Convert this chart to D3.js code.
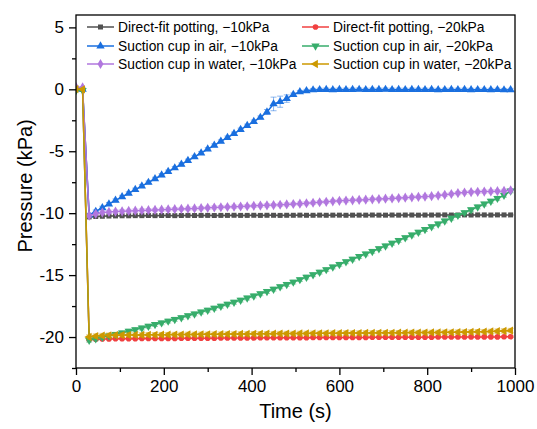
<!DOCTYPE html>
<html>
<head>
<meta charset="utf-8">
<script src="https://d3js.org/d3.v7.min.js"></script>
<style>
  body { margin: 0; background: #fff; }
  text { font-family: Arial, "Liberation Sans", sans-serif; fill: #000; }
</style>
</head>
<body>
<svg id="chart" width="537" height="429"></svg>
<script>
// time stamps (s)
const time = [0,15,30,45,60,75,90,105,120,135,150,165,180,195,210,225,240,255,270,285,
  300,315,330,345,360,375,390,405,420,435,450,465,480,495,510,525,540,555,570,585,
  600,615,630,645,660,675,690,705,720,735,750,765,780,795,810,825,840,855,870,885,
  900,915,930,945,960,975,990];

// pressure (kPa)
const potting10 = [0.02,0.00,
  -10.30,-10.27,-10.25,-10.23,-10.22,-10.21,-10.21,-10.20,-10.20,-10.19,
  -10.20,-10.19,-10.19,-10.20,-10.19,-10.18,-10.19,-10.18,-10.18,-10.19,
  -10.18,-10.18,-10.17,-10.18,-10.18,-10.17,-10.18,-10.17,-10.17,-10.18,
  -10.17,-10.17,-10.16,-10.17,-10.17,-10.16,-10.17,-10.16,-10.16,-10.17,
  -10.16,-10.16,-10.16,-10.15,-10.16,-10.16,-10.15,-10.16,-10.15,-10.15,
  -10.16,-10.15,-10.15,-10.15,-10.14,-10.15,-10.15,-10.14,-10.15,-10.14,
  -10.14,-10.15,-10.14,-10.14,-10.14];
const potting20 = [0.00,-0.02,
  -20.22,-20.18,-20.16,-20.15,-20.14,-20.14,-20.13,-20.13,-20.12,-20.12,
  -20.12,-20.11,-20.11,-20.11,-20.10,-20.10,-20.10,-20.09,-20.09,-20.09,
  -20.08,-20.08,-20.08,-20.07,-20.07,-20.07,-20.06,-20.06,-20.06,-20.06,
  -20.05,-20.05,-20.05,-20.05,-20.04,-20.04,-20.04,-20.04,-20.03,-20.03,
  -20.03,-20.03,-20.03,-20.02,-20.02,-20.02,-20.02,-20.02,-20.01,-20.01,
  -20.01,-20.01,-20.01,-20.00,-20.00,-20.00,-20.00,-20.00,-19.99,-19.99,
  -19.99,-19.99,-19.99,-19.98,-19.98];
const air10 = [0.05,0.00,
  -10.15,-9.86,-9.56,-9.26,-8.97,-8.68,-8.39,-8.10,-7.81,-7.52,
  -7.22,-6.93,-6.64,-6.35,-6.06,-5.76,-5.45,-5.14,-4.83,-4.52,
  -4.20,-3.89,-3.57,-3.25,-2.93,-2.60,-2.27,-1.83,-1.18,-1.00,
  -0.75,-0.42,-0.21,-0.12,-0.05,-0.03,-0.02,-0.04,-0.02,-0.03,
  -0.02,-0.01,-0.03,-0.02,-0.02,-0.01,-0.03,-0.02,-0.03,-0.02,
  -0.02,-0.03,-0.02,-0.04,-0.03,-0.02,-0.03,-0.02,-0.04,-0.03,
  -0.03,-0.04,-0.03,-0.05,-0.04];
const air20 = [-0.10,-0.08,
  -20.25,-20.14,-20.02,-19.90,-19.78,-19.66,-19.53,-19.40,-19.27,-19.13,
  -18.99,-18.85,-18.71,-18.57,-18.43,-18.28,-18.13,-17.98,-17.83,-17.67,
  -17.51,-17.35,-17.19,-17.02,-16.85,-16.68,-16.50,-16.32,-16.13,-15.94,
  -15.75,-15.56,-15.36,-15.16,-14.96,-14.76,-14.55,-14.34,-14.13,-13.92,
  -13.71,-13.50,-13.29,-13.08,-12.86,-12.64,-12.42,-12.20,-11.98,-11.76,
  -11.54,-11.32,-11.09,-10.86,-10.63,-10.40,-10.17,-9.95,-9.72,-9.49,
  -9.26,-9.03,-8.80,-8.55,-8.20];
const water10 = [0.18,0.15,
  -10.20,-10.05,-9.95,-9.90,-9.87,-9.85,-9.82,-9.80,-9.78,-9.76,
  -9.74,-9.72,-9.70,-9.68,-9.66,-9.64,-9.62,-9.60,-9.57,-9.54,
  -9.52,-9.50,-9.48,-9.46,-9.44,-9.41,-9.39,-9.37,-9.35,-9.32,
  -9.29,-9.26,-9.23,-9.20,-9.16,-9.12,-9.08,-9.04,-9.00,-8.98,
  -8.96,-8.93,-8.91,-8.88,-8.86,-8.83,-8.81,-8.78,-8.75,-8.72,
  -8.69,-8.66,-8.63,-8.58,-8.52,-8.45,-8.38,-8.33,-8.30,-8.28,
  -8.26,-8.24,-8.22,-8.20,-8.15];
const water20 = [0.02,0.00,
  -20.00,-19.92,-19.88,-19.86,-19.85,-19.84,-19.84,-19.83,-19.83,-19.82,
  -19.82,-19.81,-19.81,-19.80,-19.80,-19.79,-19.79,-19.78,-19.78,-19.77,
  -19.77,-19.76,-19.76,-19.75,-19.75,-19.74,-19.74,-19.73,-19.73,-19.72,
  -19.72,-19.72,-19.71,-19.71,-19.70,-19.70,-19.70,-19.69,-19.69,-19.68,
  -19.68,-19.68,-19.67,-19.67,-19.66,-19.66,-19.66,-19.65,-19.65,-19.64,
  -19.64,-19.64,-19.63,-19.63,-19.62,-19.62,-19.61,-19.60,-19.59,-19.58,
  -19.57,-19.55,-19.53,-19.51,-19.48];

// standard deviations (kPa), one per series, plus the larger ones on the air curve
const errSize = [0.04, 0.06, 0.12, 0.16, 0.13, 0.18];
const air10Err = {435: 0.2, 450: 0.55, 465: 0.45, 480: 0.3};

const labels = ["Direct-fit potting, \u221210kPa", "Direct-fit potting, \u221220kPa",
  "Suction cup in air, \u221210kPa", "Suction cup in air, \u221220kPa",
  "Suction cup in water, \u221210kPa", "Suction cup in water, \u221220kPa"];
const colors = ["#515151", "#F14040", "#1A6FDF", "#37AD6B", "#B177DE", "#CC9900"];
const xTicks = [0, 200, 400, 600, 800, 1000];
const yTicks = [-20, -15, -10, -5, 0, 5];

const symbols = [
  {type: d3.symbolSquare, size: 25, rot: 0},
  {type: d3.symbolCircle, size: 25, rot: 0},
  {type: d3.symbolTriangle, size: 30, rot: 0},
  {type: d3.symbolTriangle, size: 30, rot: 180},
  {type: d3.symbolDiamond, size: 30, rot: 0},
  {type: d3.symbolTriangle, size: 30, rot: -90}
];

const allSeries = [potting10, potting20, air10, air20, water10, water20];

const svg = d3.select("#chart");
const m = {left: 76, top: 15, right: 22, bottom: 61};
const W = 537 - m.left - m.right, H = 429 - m.top - m.bottom;

const x = d3.scaleLinear().domain([0, 1000]).range([0, W]);
const y = d3.scaleLinear().domain([-22.5, 6]).range([H, 0]);

const g = svg.append("g").attr("transform", `translate(${m.left},${m.top})`);

// clip so nothing spills past the frame
svg.append("defs").append("clipPath").attr("id", "clip")
  .append("rect").attr("x", 0).attr("y", 0).attr("width", W).attr("height", H);

const plot = g.append("g").attr("clip-path", "url(#clip)");

allSeries.forEach((vals, s) => {
  const pts = time.map((t, i) => ({t: t, v: vals[i]}));
  const sg = plot.append("g");
  const col = colors[s];

  // error bars
  const eb = sg.append("g").attr("stroke", col).attr("stroke-opacity", 0.55).attr("stroke-width", 0.9);
  pts.forEach(p => {
    if (p.t < 30) return;
    let e = errSize[s];
    if (s === 2 && air10Err[p.t] !== undefined) e = air10Err[p.t];
    const x0 = x(p.t), y1 = y(p.v + e), y2 = y(p.v - e);
    eb.append("line").attr("x1", x0).attr("x2", x0).attr("y1", y1).attr("y2", y2);
    eb.append("line").attr("x1", x0 - 3).attr("x2", x0 + 3).attr("y1", y1).attr("y2", y1);
    eb.append("line").attr("x1", x0 - 3).attr("x2", x0 + 3).attr("y1", y2).attr("y2", y2);
  });

  sg.append("path")
    .datum(pts)
    .attr("fill", "none")
    .attr("stroke", col)
    .attr("stroke-width", 1.5)
    .attr("d", d3.line().x(d => x(d.t)).y(d => y(d.v)));

  const sym = d3.symbol().type(symbols[s].type).size(symbols[s].size);
  sg.selectAll("path.mk")
    .data(pts)
    .join("path")
    .attr("class", "mk")
    .attr("fill", col)
    .attr("d", sym)
    .attr("transform", d => `translate(${x(d.t)},${y(d.v)}) rotate(${symbols[s].rot})`);
});

// axes
g.append("g").attr("transform", `translate(0,${H})`)
  .call(d3.axisBottom(x).tickValues(xTicks).tickSize(7).tickSizeOuter(0).tickPadding(5).tickFormat(d => String(d)));
g.append("g").attr("transform", `translate(0,${H})`)
  .call(d3.axisBottom(x).tickValues([100, 300, 500, 700, 900]).tickSize(4).tickSizeOuter(0).tickFormat(""));
g.append("g")
  .call(d3.axisLeft(y).tickValues(yTicks).tickSize(7).tickSizeOuter(0).tickPadding(5).tickFormat(d => String(d)));
g.append("g")
  .call(d3.axisLeft(y).tickValues([-22.5, -17.5, -12.5, -7.5, -2.5, 2.5]).tickSize(4).tickSizeOuter(0).tickFormat(""));

g.selectAll(".domain").remove();
g.selectAll(".tick line").attr("stroke", "#000").attr("stroke-width", 1.3);
g.selectAll(".tick text").style("font-size", "17px").attr("fill", "#000");

g.append("rect").attr("x", 0).attr("y", 0).attr("width", W).attr("height", H)
  .attr("fill", "none").attr("stroke", "#000").attr("stroke-width", 1.3);

// axis titles
svg.append("text").attr("x", m.left + W / 2).attr("y", 418)
  .attr("text-anchor", "middle").style("font-size", "20px").text("Time (s)");
svg.append("text").attr("transform", `translate(32,${m.top + y(-7.8)}) rotate(-90)`)
  .attr("text-anchor", "middle").style("font-size", "20px").text("Pressure (kPa)");

// legend
const legX = [87, 302], legY = [27, 46, 64];
labels.forEach((lab, s) => {
  const lx = legX[s % 2], ly = legY[Math.floor(s / 2)];
  const lg = svg.append("g").attr("transform", `translate(${lx},${ly})`);
  lg.append("line").attr("x1", 0).attr("x2", 27).attr("y1", 0).attr("y2", 0)
    .attr("stroke", colors[s]).attr("stroke-width", 1.5);
  lg.append("path")
    .attr("d", d3.symbol().type(symbols[s].type).size(symbols[s].size)())
    .attr("fill", colors[s])
    .attr("transform", `translate(13.5,0) rotate(${symbols[s].rot})`);
  lg.append("text").attr("x", 31).attr("y", 5).style("font-size", "13.8px").text(lab);
});
</script>
</body>
</html>
